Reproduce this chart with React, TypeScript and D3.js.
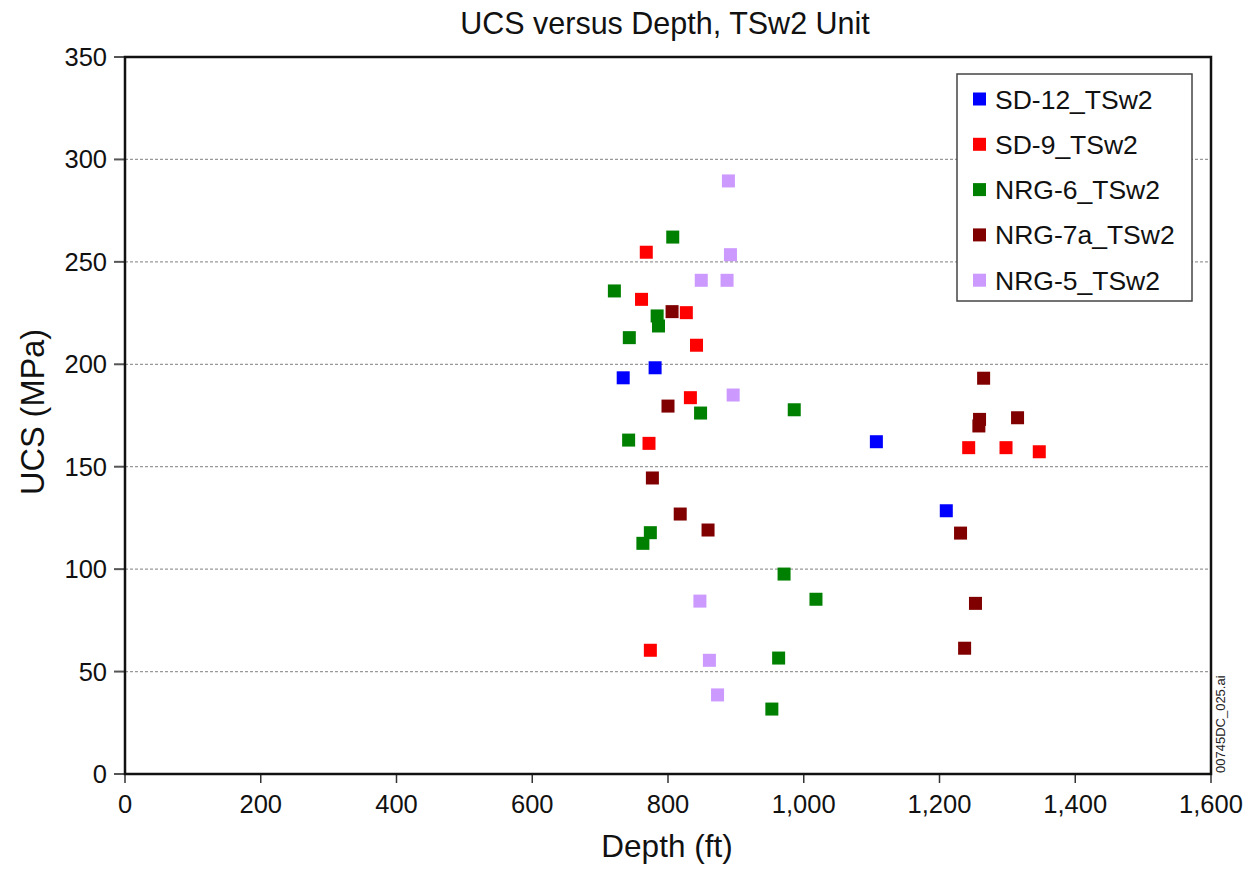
import React from "react";
import * as d3 from "d3";

type Pt = [number, number];

const seriesNames = ["SD-12_TSw2", "SD-9_TSw2", "NRG-6_TSw2", "NRG-7a_TSw2", "NRG-5_TSw2"];
const seriesColors = ["#0000ff", "#ff0000", "#008000", "#800000", "#cc99ff"];

const sd12: Pt[] = [[734, 193.4], [781, 198.3], [1107, 162.2], [1210, 128.5]];
const sd9: Pt[] = [
  [768, 254.7], [761, 231.7], [827, 225.2], [842, 209.3], [833, 183.7],
  [772, 161.4], [774, 60.4], [1243, 159.3], [1298, 159.3], [1347, 157.3],
];
const nrg6: Pt[] = [
  [807, 262.1], [721, 235.8], [784, 223.6], [786, 218.7], [743, 213],
  [848, 176.2], [986, 177.8], [742, 163], [774, 117.8], [763, 112.6],
  [971, 97.6], [1018, 85.3], [963, 56.6], [953, 31.7],
];
const nrg7a: Pt[] = [
  [806, 225.7], [800, 179.6], [777, 144.5], [818, 126.9], [859, 119.1],
  [1231, 117.6], [1253, 83.3], [1237, 61.4], [1265, 193.2], [1259, 173.1],
  [1258, 169.9], [1315, 173.9],
];
const nrg5: Pt[] = [
  [889, 289.5], [892, 253.5], [849, 241], [887, 241], [896, 185],
  [847, 84.4], [861, 55.5], [873, 38.6],
];
const allSeries = [sd12, sd9, nrg6, nrg7a, nrg5];

const xTicks = [0, 200, 400, 600, 800, 1000, 1200, 1400, 1600];
const yTicks = [0, 50, 100, 150, 200, 250, 300, 350];
const gridValues = [50, 100, 150, 200, 250, 300];

const W = 1253;
const H = 871;
const left = 125;
const right = 1211;
const top = 57;
const bottom = 774;

export default function App() {
  const x = d3.scaleLinear().domain([0, 1600]).range([left, right]);
  const y = d3.scaleLinear().domain([0, 350]).range([bottom, top]);
  const fmt = d3.format(",");
  const font = "Liberation Sans, Arial, Helvetica, sans-serif";
  const ms = 13;

  const legX = 957, legY = 74, legW = 235, legH = 227;
  const rowY = (i: number) => 99 + i * 45.3;

  return (
    <svg width={W} height={H} style={{ position: "absolute", left: 0, top: 0, background: "#fff" }} fontFamily={font}>
      <rect x={0} y={0} width={W} height={H} fill="#fff" />
      <text x={665} y={34} textAnchor="middle" fontSize={30.5} fill="#111">UCS versus Depth, TSw2 Unit</text>

      {gridValues.map((v) => (
        <line key={"g" + v} x1={left} x2={right} y1={y(v)} y2={y(v)} stroke="#999" strokeWidth={1.3} strokeDasharray="3,2" />
      ))}

      {yTicks.map((v) => (
        <g key={"yt" + v}>
          <line x1={left - 11} x2={left} y1={y(v)} y2={y(v)} stroke="#555" strokeWidth={2} />
          <text x={107} y={y(v) + 9} textAnchor="end" fontSize={25.5} fill="#111">{fmt(v)}</text>
        </g>
      ))}
      {xTicks.map((v) => (
        <g key={"xt" + v}>
          <line x1={x(v)} x2={x(v)} y1={bottom} y2={bottom + 9} stroke="#333" strokeWidth={1.5} />
          <text x={x(v)} y={813} textAnchor="middle" fontSize={25.5} fill="#111">{fmt(v)}</text>
        </g>
      ))}

      {allSeries.map((s, i) => (
        <g key={"s" + i}>
          {s.map((p, j) => (
            <rect key={j} x={x(p[0]) - ms / 2} y={y(p[1]) - ms / 2} width={ms} height={ms} fill={seriesColors[i]} />
          ))}
        </g>
      ))}

      <rect x={left} y={top} width={right - left} height={bottom - top} fill="none" stroke="#111" strokeWidth={2.5} />

      <rect x={legX} y={legY} width={legW} height={legH} fill="#fff" stroke="#444" strokeWidth={1.5} />
      {seriesNames.map((n, i) => (
        <g key={"l" + i}>
          <rect x={973} y={rowY(i) - 6.5} width={13} height={13} fill={seriesColors[i]} />
          <text x={995} y={rowY(i) + 9.5} fontSize={26.5} fill="#111">{n}</text>
        </g>
      ))}

      <text transform={`translate(44,412) rotate(-90)`} textAnchor="middle" fontSize={32.5} fill="#111">UCS (MPa)</text>
      <text x={667} y={857} textAnchor="middle" fontSize={31.5} fill="#111">Depth (ft)</text>

      <text transform={`translate(1225,773) rotate(-90)`} textAnchor="start" fontSize={13} fill="#222">00745DC_025.ai</text>
    </svg>
  );
}
